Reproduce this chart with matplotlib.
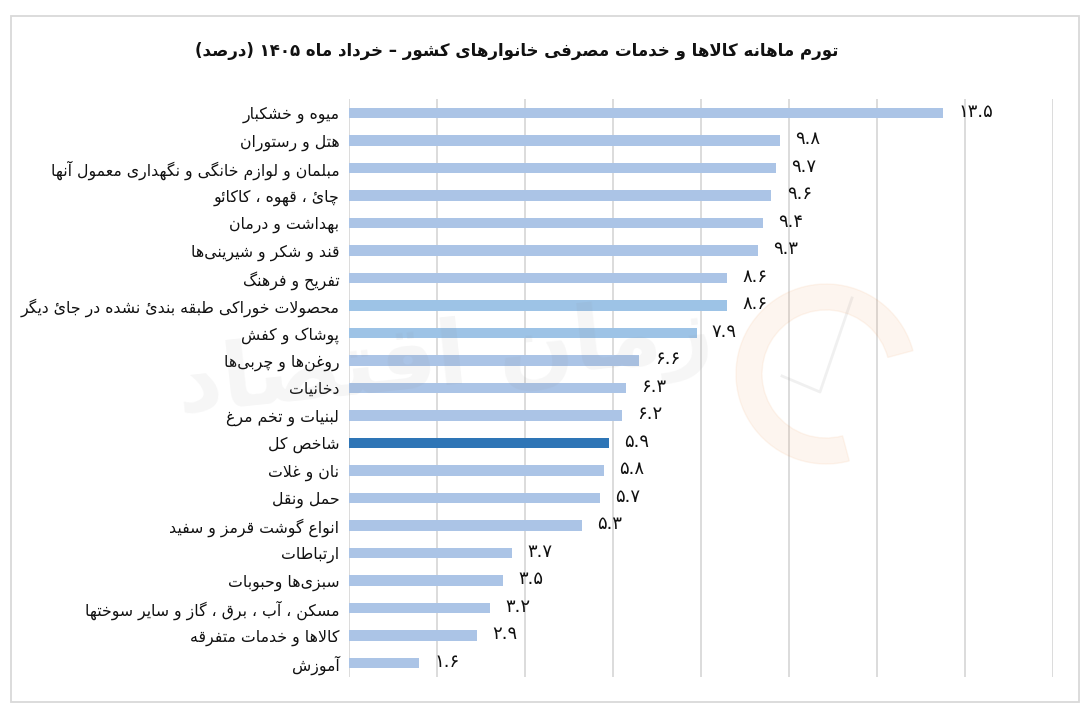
import re
import matplotlib
matplotlib.use("Agg")
import matplotlib.pyplot as plt
from matplotlib.patches import Wedge, Rectangle

# data, top to bottom
labels = [
    "میوه و خشکبار",
    "هتل و رستوران",
    "مبلمان و لوازم خانگی و نگهداری معمول آنها",
    "چائ ، قهوه ، کاکائو",
    "بهداشت و درمان",
    "قند و شکر و شیرینی\u200cها",
    "تفریح و فرهنگ",
    "محصولات خوراکی طبقه بندئ نشده در جائ دیگر",
    "پوشاک و کفش",
    "روغن\u200cها و چربی\u200cها",
    "دخانیات",
    "لبنیات و تخم مرغ",
    "شاخص کل",
    "نان و غلات",
    "حمل ونقل",
    "انواع گوشت قرمز و سفید",
    "ارتباطات",
    "سبزی\u200cها وحبوبات",
    "مسکن ، آب ، برق ، گاز و سایر سوختها",
    "کالاها و خدمات متفرقه",
    "آموزش",
]
values = [13.5, 9.8, 9.7, 9.6, 9.4, 9.3, 8.6, 8.6, 7.9, 6.6, 6.3, 6.2,
          5.9, 5.8, 5.7, 5.3, 3.7, 3.5, 3.2, 2.9, 1.6]
highlight = "شاخص کل"
title = "تورم ماهانه کالاها و خدمات مصرفی خانوارهای کشور – خرداد ماه ۱۴۰۵ (درصد)"
watermark = "زمان اقتصاد"

# --- tiny arabic/persian shaper (matplotlib has no text shaping) ---
FORMS = {
    '\u0627': ('\uFE8D', '\uFE8E', None, None),
    '\u0622': ('\uFE81', '\uFE82', None, None),
    '\u0623': ('\uFE83', '\uFE84', None, None),
    '\u0624': ('\uFE85', '\uFE86', None, None),
    '\u0625': ('\uFE87', '\uFE88', None, None),
    '\u0626': ('\uFE89', '\uFE8A', '\uFE8B', '\uFE8C'),
    '\u0628': ('\uFE8F', '\uFE90', '\uFE91', '\uFE92'),
    '\u0629': ('\uFE93', '\uFE94', None, None),
    '\u062A': ('\uFE95', '\uFE96', '\uFE97', '\uFE98'),
    '\u062B': ('\uFE99', '\uFE9A', '\uFE9B', '\uFE9C'),
    '\u062C': ('\uFE9D', '\uFE9E', '\uFE9F', '\uFEA0'),
    '\u062D': ('\uFEA1', '\uFEA2', '\uFEA3', '\uFEA4'),
    '\u062E': ('\uFEA5', '\uFEA6', '\uFEA7', '\uFEA8'),
    '\u062F': ('\uFEA9', '\uFEAA', None, None),
    '\u0630': ('\uFEAB', '\uFEAC', None, None),
    '\u0631': ('\uFEAD', '\uFEAE', None, None),
    '\u0632': ('\uFEAF', '\uFEB0', None, None),
    '\u0633': ('\uFEB1', '\uFEB2', '\uFEB3', '\uFEB4'),
    '\u0634': ('\uFEB5', '\uFEB6', '\uFEB7', '\uFEB8'),
    '\u0635': ('\uFEB9', '\uFEBA', '\uFEBB', '\uFEBC'),
    '\u0636': ('\uFEBD', '\uFEBE', '\uFEBF', '\uFEC0'),
    '\u0637': ('\uFEC1', '\uFEC2', '\uFEC3', '\uFEC4'),
    '\u0638': ('\uFEC5', '\uFEC6', '\uFEC7', '\uFEC8'),
    '\u0639': ('\uFEC9', '\uFECA', '\uFECB', '\uFECC'),
    '\u063A': ('\uFECD', '\uFECE', '\uFECF', '\uFED0'),
    '\u0641': ('\uFED1', '\uFED2', '\uFED3', '\uFED4'),
    '\u0642': ('\uFED5', '\uFED6', '\uFED7', '\uFED8'),
    '\u0643': ('\uFED9', '\uFEDA', '\uFEDB', '\uFEDC'),
    '\u0644': ('\uFEDD', '\uFEDE', '\uFEDF', '\uFEE0'),
    '\u0645': ('\uFEE1', '\uFEE2', '\uFEE3', '\uFEE4'),
    '\u0646': ('\uFEE5', '\uFEE6', '\uFEE7', '\uFEE8'),
    '\u0647': ('\uFEE9', '\uFEEA', '\uFEEB', '\uFEEC'),
    '\u0648': ('\uFEED', '\uFEEE', None, None),
    '\u0649': ('\uFEEF', '\uFEF0', None, None),
    '\u064A': ('\uFEF1', '\uFEF2', '\uFEF3', '\uFEF4'),
    '\u067E': ('\uFB56', '\uFB57', '\uFB58', '\uFB59'),
    '\u0686': ('\uFB7A', '\uFB7B', '\uFB7C', '\uFB7D'),
    '\u0698': ('\uFB8A', '\uFB8B', None, None),
    '\u06A9': ('\uFB8E', '\uFB8F', '\uFB90', '\uFB91'),
    '\u06AF': ('\uFB92', '\uFB93', '\uFB94', '\uFB95'),
    '\u06CC': ('\uFBFC', '\uFBFD', '\uFBFE', '\uFBFF'),
}
LAM_ALEF = {'\u0627': ('\uFEFB', '\uFEFC'), '\u0622': ('\uFEF5', '\uFEF6'),
            '\u0623': ('\uFEF7', '\uFEF8'), '\u0625': ('\uFEF9', '\uFEFA')}
MIRROR = {'(': ')', ')': '('}


def joins_next(ch):
    return ch in FORMS and FORMS[ch][2] is not None


def shape(s):
    out = []
    i = 0
    while i < len(s):
        c = s[i]
        if c not in FORMS:
            if c != '\u200c':
                out.append(c)
            i += 1
            continue
        p = i > 0 and joins_next(s[i - 1])
        if c == '\u0644' and i + 1 < len(s) and s[i + 1] in LAM_ALEF:
            iso, fin = LAM_ALEF[s[i + 1]]
            out.append(fin if p else iso)
            i += 2
            continue
        q = joins_next(c) and i + 1 < len(s) and s[i + 1] in FORMS
        iso, fin, ini, med = FORMS[c]
        out.append(med if p and q else fin if p else ini if q else iso)
        i += 1
    return ''.join(out)


def rtl(s):
    toks = re.findall(r'[0-9۰-۹]+(?:\.[0-9۰-۹]+)*|.', shape(s))
    return ''.join(MIRROR.get(t, t) for t in reversed(toks))


def fa_num(v):
    return ('%.1f' % v).translate(str.maketrans('0123456789', '۰۱۲۳۴۵۶۷۸۹'))


plt.rcParams['font.family'] = ['DejaVu Sans']

fig = plt.figure(figsize=(10.9, 7.21), dpi=100)
ax = fig.add_axes([0.3202, 0.0614, 0.6459, 0.801])

ypos = list(range(len(values)))
colors = []
for i, lab in enumerate(labels):
    if lab == highlight:
        colors.append('#2E75B6')
    elif i in (7, 8):
        colors.append('#9DC3E6')
    else:
        colors.append('#ABC4E6')

ax.barh(ypos, values, height=0.38, color=colors, zorder=2)
for y, v in zip(ypos, values):
    ax.annotate(fa_num(v), (v, y), xytext=(11, 1), textcoords='offset points',
                ha='left', va='center', fontsize=13, color='#111111')

ax.set_xlim(0, 16)
ax.set_ylim(len(values) - 0.5, -0.5)
ax.set_xticks(range(0, 17, 2))
ax.set_xticklabels([])
ax.set_yticks(ypos)
ax.set_yticklabels([rtl(l) for l in labels], fontsize=11.3, color='#111111')
ax.tick_params(length=0, pad=7)
ax.grid(axis='x', color='#D9D9D9', linewidth=1.3, zorder=0)
for sp in ax.spines.values():
    sp.set_visible(False)

fig.text(0.474, 0.930, rtl(title), ha='center', va='center',
         fontsize=12, fontweight='bold', color='#111111')

# overlay in pixel coords for border and watermark
ov = fig.add_axes([0, 0, 1, 1], zorder=5)
ov.set_xlim(0, 1090)
ov.set_ylim(721, 0)
ov.axis('off')
ov.patch.set_alpha(0)
ov.add_patch(Rectangle((11, 16), 1068, 686, fill=False, edgecolor='#D9D9D9', lw=1.3))
ov.text(445, 362, rtl(watermark), ha='center', va='center', fontsize=64,
        fontweight='bold', color='#8C8C8C', alpha=0.08, rotation=6)
ov.add_patch(Wedge((826, 374), 90, 75, 345, width=26, color='#F08A3C', alpha=0.08))
ov.plot([852, 820, 782], [298, 392, 376], color='#8A8A8A', alpha=0.12, lw=2)

fig.savefig('out.png', dpi=100)
